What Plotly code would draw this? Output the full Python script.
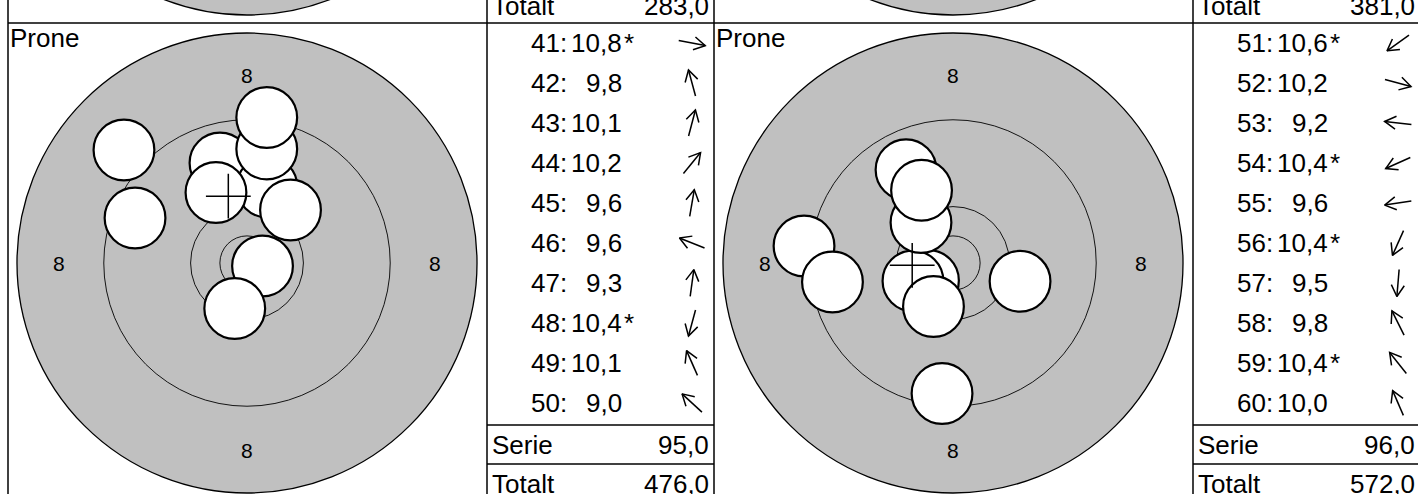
import math
import plotly.graph_objects as go

# ---------------- data ----------------
position_labels = ["Prone", "Prone"]
shot_numbers_1 = [41, 42, 43, 44, 45, 46, 47, 48, 49, 50]
scores_1 = [10.8, 9.8, 10.1, 10.2, 9.6, 9.6, 9.3, 10.4, 10.1, 9.0]
inner_ten_1 = [1, 0, 0, 0, 0, 0, 0, 1, 0, 0]
shot_x_1 = [1.43, -2.49, 1.84, 4.01, 1.82, -10.32, 1.82, -1.13, -2.86, -11.34]   # mm, right +
shot_y_1 = [-0.28, 9.22, 7.00, 4.88, 10.51, 4.15, 13.41, -4.19, 6.50, 10.41]    # mm, up +

shot_numbers_2 = [51, 52, 53, 54, 55, 56, 57, 58, 59, 60]
scores_2 = [10.6, 10.2, 9.2, 10.4, 9.6, 10.4, 9.5, 9.8, 10.4, 10.0]
inner_ten_2 = [1, 0, 0, 1, 0, 1, 0, 0, 1, 0]
shot_x_2 = [-2.26, 6.18, -13.73, -3.69, -11.11, -1.80, -1.01, -4.33, -2.95, -2.90]
shot_y_2 = [-1.61, -1.69, 1.57, -1.66, -1.75, -4.01, -12.03, 8.60, 3.73, 6.70]

previous_totals = [283.0, 381.0]          # totals shown in the row above (cut off at the top)
ring_radii_mm = [21.2, 13.2, 5.2, 2.5]     # ring 8 (outer), 9, 10, inner ten
ring_label = "8"
ring_label_dist_mm = 17.3
bullet_radius_mm = 2.8

# ---------------- layout constants ----------------
W, H = 1418, 494
S = 10.85            # px per mm
PANEL_W, PANEL_H = 706, 478
LEFT, TOP_LINE = 8, 23
CX_OFF, CY = 239, 263
TABLE_OFF, TABLE_W = 479, 227
ROW_H, SUM_H = 40, 39
FONT = "Liberation Sans, Arial, Helvetica, sans-serif"
FS = 26
GRAY = "#c0c0c0"


def fmt(v):
    return f"{v:.1f}".replace(".", ",")


panels = [
    dict(nums=shot_numbers_1, scores=scores_1, inner=inner_ten_1, xs=shot_x_1, ys=shot_y_1),
    dict(nums=shot_numbers_2, scores=scores_2, inner=inner_ten_2, xs=shot_x_2, ys=shot_y_2),
]

fig = go.Figure()
shapes = []
annotations = []
layout_axes = {}


def txt(x, y, text, xanchor, xref="x", yref="y", size=FS):
    annotations.append(dict(x=x, y=y, xref=xref, yref=yref, text=text, showarrow=False,
                            font=dict(family=FONT, size=size, color="black"),
                            xanchor=xanchor, yanchor="middle", borderpad=0))


# overlay (page) axis in pixel units
layout_axes["xaxis"] = dict(domain=[0, 1], range=[0, W], visible=False, fixedrange=True)
layout_axes["yaxis"] = dict(domain=[0, 1], range=[H, 0], visible=False, fixedrange=True)
fig.add_trace(go.Scatter(x=[None], y=[None], xaxis="x", yaxis="y", showlegend=False, hoverinfo="skip"))

line_style = dict(color="black", width=1.5)

shapes.append(dict(type="line", xref="x", yref="y", x0=LEFT, x1=W, y0=TOP_LINE, y1=TOP_LINE,
                   line=line_style, layer="above"))

running_total = previous_totals[-1]

for p, pan in enumerate(panels):
    px0 = LEFT + p * PANEL_W
    tx0 = px0 + TABLE_OFF
    ax = 2 + p
    xa, ya = f"x{ax}", f"y{ax}"

    for xv in (px0, tx0):
        shapes.append(dict(type="line", xref="x", yref="y", x0=xv, x1=xv, y0=0, y1=H,
                           line=line_style, layer="above"))
    ys_line = [TOP_LINE + 10 * ROW_H + 2, TOP_LINE + 10 * ROW_H + 2 + SUM_H]
    for yv in ys_line:
        shapes.append(dict(type="line", xref="x", yref="y", x0=tx0, x1=tx0 + TABLE_W, y0=yv, y1=yv,
                           line=line_style, layer="above"))

    # target axes (mm units, equal scale on x and y)
    layout_axes[f"xaxis{ax}"] = dict(domain=[px0 / W, tx0 / W],
                                     range=[-CX_OFF / S, (TABLE_OFF - CX_OFF) / S],
                                     visible=False, fixedrange=True, anchor=ya)
    layout_axes[f"yaxis{ax}"] = dict(domain=[0, 1], range=[-(H - CY) / S, CY / S],
                                     visible=False, fixedrange=True, anchor=xa)

    r8 = ring_radii_mm[0]
    prev_cy = PANEL_H / S
    shapes.append(dict(type="circle", xref=xa, yref=ya, x0=-r8, x1=r8, y0=prev_cy - r8, y1=prev_cy + r8,
                       fillcolor=GRAY, line=dict(color="black", width=1.3), layer="below"))
    for i, r in enumerate(ring_radii_mm):
        shapes.append(dict(type="circle", xref=xa, yref=ya, x0=-r, x1=r, y0=-r, y1=r,
                           fillcolor=GRAY if i == 0 else "rgba(0,0,0,0)",
                           line=dict(color="black", width=1.3 if i == 0 else 0.9), layer="below"))
    d = ring_label_dist_mm
    for (lx, ly) in [(0, d), (0, -d), (-d, 0), (d, 0)]:
        txt(lx, ly, ring_label, "center", xref=xa, yref=ya, size=21)

    # shots
    fig.add_trace(go.Scatter(
        x=pan["xs"], y=pan["ys"], xaxis=xa, yaxis=ya, mode="markers",
        marker=dict(symbol="circle", size=2 * bullet_radius_mm * S, color="white",
                    line=dict(color="black", width=2.2)),
        showlegend=False, hoverinfo="skip"))
    # mean point of impact
    mx = sum(pan["xs"]) / len(pan["xs"])
    my = sum(pan["ys"]) / len(pan["ys"])
    fig.add_trace(go.Scatter(
        x=[mx], y=[my], xaxis=xa, yaxis=ya, mode="markers",
        marker=dict(symbol="cross-thin", size=32, line=dict(color="black", width=1.5)),
        showlegend=False, hoverinfo="skip"))

    txt(px0 + 1, 38, position_labels[p], "left")

    ax_x, ax_y = [], []
    for i, (n, s, inn, sx, sy) in enumerate(zip(pan["nums"], pan["scores"], pan["inner"], pan["xs"], pan["ys"])):
        yc = TOP_LINE + ROW_H * (i + 0.5)
        txt(tx0 + 81, yc, f"{n}:", "right")
        txt(tx0 + 136, yc, fmt(s), "right")
        if inn:
            txt(tx0 + 136, yc, "*", "left")
        dist = math.hypot(sx, sy)
        ux, uy = sx / dist, -sy / dist
        L, hl, a = 27, 13, math.radians(30)
        cx, cy = tx0 + 205, yc
        hx, hy = cx + ux * L / 2, cy + uy * L / 2
        tx, ty = cx - ux * L / 2, cy - uy * L / 2
        bx, by = -ux, -uy
        w1x = hx + hl * (bx * math.cos(a) - by * math.sin(a))
        w1y = hy + hl * (bx * math.sin(a) + by * math.cos(a))
        w2x = hx + hl * (bx * math.cos(-a) - by * math.sin(-a))
        w2y = hy + hl * (bx * math.sin(-a) + by * math.cos(-a))
        ax_x += [tx, hx, None, w1x, hx, w2x, None]
        ax_y += [ty, hy, None, w1y, hy, w2y, None]
    fig.add_trace(go.Scatter(x=ax_x, y=ax_y, xaxis="x", yaxis="y", mode="lines",
                             line=dict(color="black", width=1.5), showlegend=False, hoverinfo="skip"))

    serie = sum(math.floor(s) for s in pan["scores"])
    running_total += serie
    y_serie = TOP_LINE + 10 * ROW_H + 2 + SUM_H / 2
    y_tot = y_serie + SUM_H
    y_prev = y_tot - PANEL_H
    for label, val, yy in [("Serie", serie, y_serie), ("Totalt", running_total, y_tot),
                           ("Totalt", previous_totals[p], y_prev)]:
        txt(tx0 + 4, yy, label, "left")
        txt(tx0 + 223, yy, fmt(val), "right")

fig.update_layout(
    width=W, height=H, autosize=False,
    margin=dict(l=0, r=0, t=0, b=0, pad=0),
    paper_bgcolor="white", plot_bgcolor="rgba(0,0,0,0)",
    showlegend=False, shapes=shapes, annotations=annotations,
    **layout_axes,
)

fig.write_html("out.html", config={"displayModeBar": False, "staticPlot": True},
               post_script="document.body.style.margin='0px';document.body.style.overflow='hidden';")
